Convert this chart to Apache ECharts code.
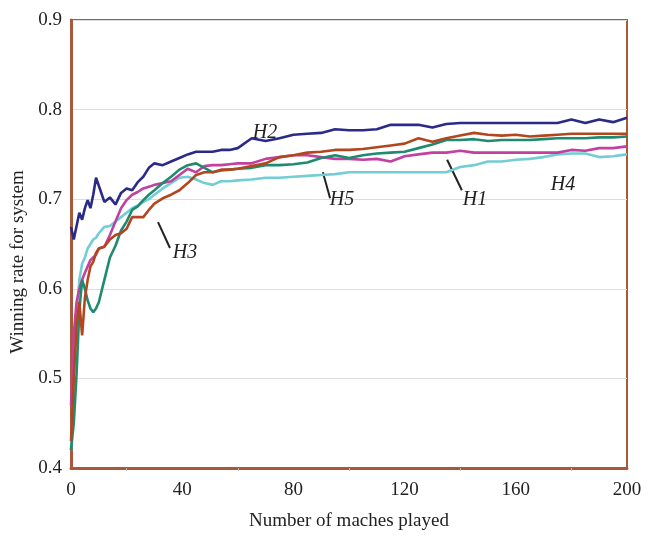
<!DOCTYPE html>
<html>
<head>
<meta charset="utf-8">
<script src="https://cdn.jsdelivr.net/npm/echarts@6/dist/echarts.min.js"></script>
<style>
  html, body { margin: 0; padding: 0; background: #fff; }
  #main { width: 652px; height: 538px; }
</style>
</head>
<body>
<div id="main"></div>
<script>
// matches played (shared x values)
var matches = [0,1,2,3,4,5,6,7,8,9,10,12,14,16,18,20,22,24,26,28,30,33,36,39,42,45,48,51,54,57,60,
  65,70,75,80,85,90,95,100,105,110,115,120,125,130,135,140,145,150,155,160,165,170,175,180,185,190,195,200];

var h1 = [0.47,0.55,0.585,0.60,0.61,0.618,0.625,0.632,0.635,0.638,0.645,0.647,0.66,0.675,0.69,0.699,0.705,0.708,0.712,0.714,0.716,0.718,0.72,0.727,0.734,0.73,0.737,0.738,0.738,0.739,0.74,
  0.74,0.745,0.747,0.749,0.749,0.747,0.745,0.745,0.744,0.745,0.742,0.748,0.75,0.752,0.752,0.754,0.752,0.752,0.752,0.752,0.752,0.752,0.752,0.755,0.754,0.757,0.757,0.759];
var h2 = [0.669,0.655,0.67,0.685,0.677,0.69,0.699,0.69,0.705,0.724,0.715,0.697,0.702,0.694,0.707,0.712,0.71,0.719,0.725,0.735,0.74,0.738,0.742,0.746,0.75,0.753,0.753,0.753,0.755,0.755,0.757,
  0.768,0.765,0.768,0.772,0.773,0.774,0.778,0.777,0.777,0.778,0.783,0.783,0.783,0.78,0.784,0.785,0.785,0.785,0.785,0.785,0.785,0.785,0.785,0.789,0.785,0.789,0.786,0.791];
var h3 = [0.43,0.50,0.56,0.585,0.548,0.59,0.61,0.625,0.63,0.64,0.645,0.647,0.655,0.66,0.662,0.667,0.68,0.68,0.68,0.688,0.695,0.701,0.705,0.71,0.718,0.727,0.73,0.73,0.733,0.733,0.734,
  0.737,0.74,0.747,0.749,0.752,0.753,0.755,0.755,0.756,0.758,0.76,0.762,0.768,0.764,0.768,0.771,0.774,0.772,0.771,0.772,0.77,0.771,0.772,0.773,0.773,0.773,0.773,0.773];
var h4 = [0.42,0.50,0.57,0.61,0.628,0.635,0.645,0.65,0.655,0.657,0.662,0.669,0.67,0.675,0.68,0.685,0.69,0.693,0.697,0.70,0.705,0.712,0.718,0.724,0.725,0.722,0.718,0.716,0.72,0.72,0.721,
  0.722,0.724,0.724,0.725,0.726,0.727,0.728,0.73,0.73,0.73,0.73,0.73,0.73,0.73,0.73,0.736,0.738,0.742,0.742,0.744,0.745,0.747,0.75,0.751,0.751,0.747,0.748,0.75];
var h5 = [0.42,0.45,0.505,0.576,0.61,0.60,0.587,0.578,0.574,0.578,0.585,0.61,0.635,0.648,0.665,0.675,0.688,0.692,0.699,0.705,0.71,0.718,0.725,0.733,0.738,0.74,0.735,0.73,0.732,0.733,0.734,
  0.735,0.738,0.738,0.739,0.741,0.746,0.749,0.746,0.749,0.751,0.752,0.753,0.757,0.761,0.766,0.766,0.767,0.765,0.766,0.766,0.766,0.767,0.768,0.768,0.768,0.769,0.769,0.77];

// annotation labels [text, x, y] and pointer lines [x1, y1, x2, y2] in data units
var labels = [['H2', 69.8, 0.774], ['H3', 41, 0.640], ['H5', 97.5, 0.699], ['H1', 145.3, 0.699], ['H4', 177, 0.716]];
var pointers = [[31.3, 0.6745, 35.6, 0.6455], [90.6, 0.730, 93.2, 0.701], [135.3, 0.744, 140.6, 0.710]];

var serif = 'Liberation Serif';
var frame = '#a9583a';

function pairs(ys) {
  return matches.map(function (m, i) { return [m, ys[i]]; });
}

function line(name, ys, color) {
  return {
    name: name,
    type: 'line',
    data: pairs(ys),
    showSymbol: false,
    smooth: false,
    lineStyle: { color: color, width: 2.6 },
    emphasis: { disabled: true }
  };
}

var myChart = echarts.init(document.getElementById('main'));

var option = {
  animation: false,
  backgroundColor: '#fff',
  grid: {
    left: 71, right: 25, top: 20, bottom: 70,
    show: true, borderColor: frame, borderWidth: 2
  },
  xAxis: {
    type: 'value',
    min: 0, max: 200, interval: 40,
    name: 'Number of maches played',
    nameLocation: 'middle',
    nameGap: 44,
    nameTextStyle: { fontFamily: serif, fontSize: 19, color: '#222' },
    axisLine: { lineStyle: { color: frame, width: 3 } },
    axisTick: { show: false },
    minorTick: { show: true, splitNumber: 2, length: 3, lineStyle: { color: '#bbb' } },
    axisLabel: { fontFamily: serif, fontSize: 19, color: '#222', margin: 13 },
    splitLine: { show: false }
  },
  yAxis: {
    type: 'value',
    min: 0.4, max: 0.9, interval: 0.1,
    name: 'Winning rate for system',
    nameLocation: 'middle',
    nameGap: 38,
    nameTextStyle: { fontFamily: serif, fontSize: 19, color: '#222', padding: [0, 0, 0, -36] },
    axisLine: { show: true, lineStyle: { color: frame, width: 3 } },
    axisTick: { show: false },
    axisLabel: { fontFamily: serif, fontSize: 19, color: '#222', margin: 9,
      formatter: function (v) { return v.toFixed(1); } },
    splitLine: { show: true, lineStyle: { color: '#ddd', width: 1 } }
  },
  series: [
    line('H4', h4, '#72cdd4'),
    line('H1', h1, '#c2409e'),
    line('H5', h5, '#1f8a6e'),
    line('H3', h3, '#b2461f'),
    line('H2', h2, '#2b2a88')
  ]
};

myChart.setOption(option);

// annotations placed through the chart's own coordinate conversion
var gfx = [];
labels.forEach(function (l) {
  var p = myChart.convertToPixel({ gridIndex: 0 }, [l[1], l[2]]);
  gfx.push({
    type: 'text', x: p[0], y: p[1],
    style: { text: l[0], fontFamily: serif, fontStyle: 'italic', fontSize: 20, fill: '#222',
      align: 'center', verticalAlign: 'middle' }
  });
});
pointers.forEach(function (s) {
  var a = myChart.convertToPixel({ gridIndex: 0 }, [s[0], s[1]]);
  var b = myChart.convertToPixel({ gridIndex: 0 }, [s[2], s[3]]);
  gfx.push({
    type: 'line',
    shape: { x1: a[0], y1: a[1], x2: b[0], y2: b[1] },
    style: { stroke: '#222', lineWidth: 2 }
  });
});
myChart.setOption({ graphic: gfx });
</script>
</body>
</html>
